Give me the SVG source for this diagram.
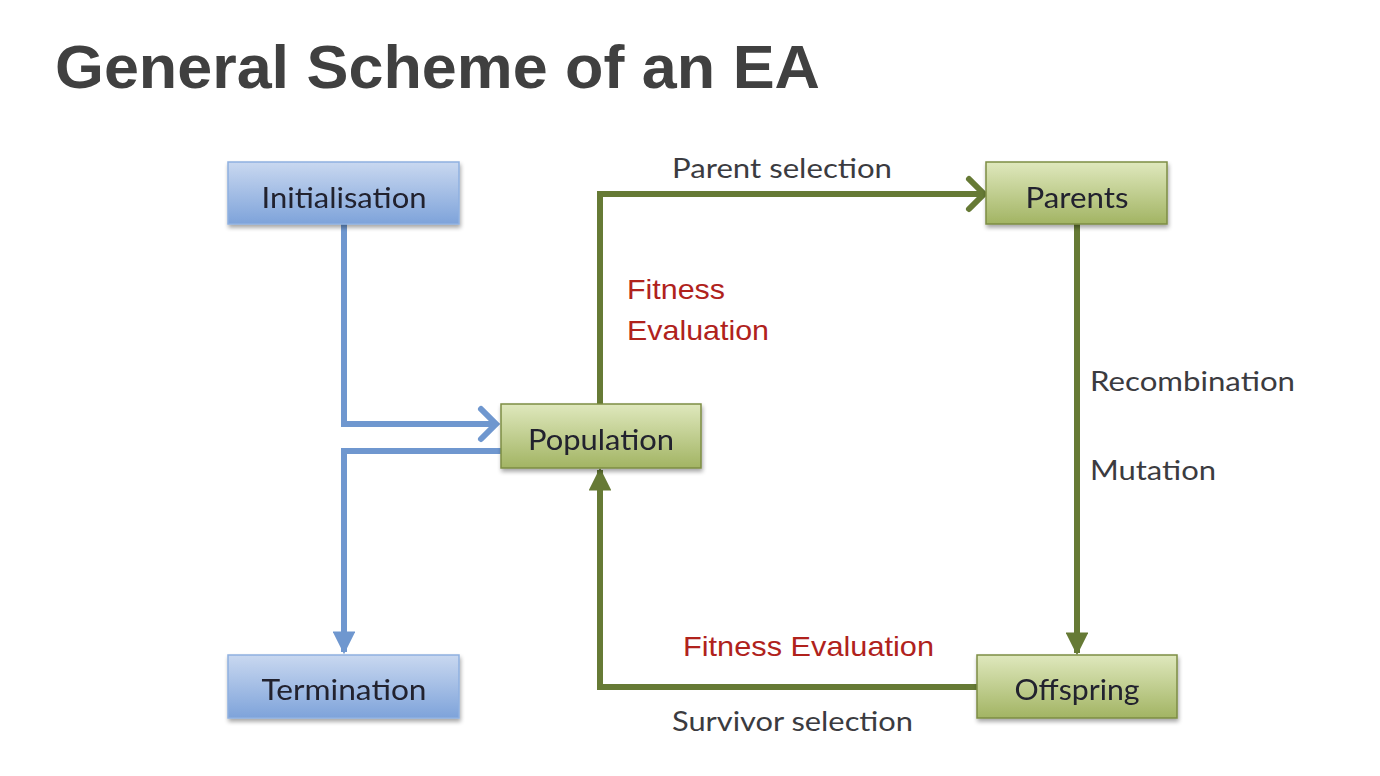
<svg xmlns="http://www.w3.org/2000/svg" width="1380" height="776" viewBox="0 0 1380 776">
<defs>
<linearGradient id="gBlue" x1="0" y1="0" x2="0" y2="1">
<stop offset="0" stop-color="#c9d8f0"/>
<stop offset="1" stop-color="#7ea3da"/>
</linearGradient>
<linearGradient id="gGreen" x1="0" y1="0" x2="0" y2="1">
<stop offset="0" stop-color="#dfe8bd"/>
<stop offset="1" stop-color="#a2b463"/>
</linearGradient>
<filter id="sh" x="-10%" y="-20%" width="130%" height="150%">
<feGaussianBlur in="SourceAlpha" stdDeviation="2"/>
<feOffset dx="1" dy="3" result="o"/>
<feComponentTransfer><feFuncA type="linear" slope="0.35"/></feComponentTransfer>
<feMerge><feMergeNode/><feMergeNode in="SourceGraphic"/></feMerge>
</filter>
<marker id="triB" viewBox="0 0 10 10" refX="9" refY="5" markerWidth="3.8" markerHeight="3.8" orient="auto" markerUnits="strokeWidth">
<path d="M0,0 L10,5 L0,10 z" fill="#6f97cf"/>
</marker>
<marker id="triG" viewBox="0 0 10 10" refX="9" refY="5" markerWidth="3.8" markerHeight="3.8" orient="auto" markerUnits="strokeWidth">
<path d="M0,0 L10,5 L0,10 z" fill="#667a35"/>
</marker>
</defs>
<style>
.title{font-family:"Liberation Sans",Arial,sans-serif;font-weight:bold;font-size:62px;fill:#404040}
.box{stroke-width:1.5}
.blue{fill:url(#gBlue);stroke:#8fb0e0}
.green{fill:url(#gGreen);stroke:#7d8d44}
.lbl{font-family:Lato,"Open Sans",sans-serif;font-size:28px;fill:#20202e;text-anchor:middle}
.edge{font-family:Lato,"Open Sans",sans-serif;font-size:27px;fill:#3b3b40}
.red{font-family:"Liberation Sans",Arial,sans-serif;font-size:28px;fill:#b0221c}
.cb{fill:none;stroke:#6f97cf;stroke-width:6}
.cg{fill:none;stroke:#667a35;stroke-width:6}
</style>
<rect width="1380" height="776" fill="#ffffff"/>
<text class="title" x="55" y="88" textLength="765" lengthAdjust="spacingAndGlyphs">General Scheme of an EA</text>

<g id="connectors">
<path class="cb" d="M344,224 V424 H496"/>
<path class="cb" d="M481,409 L496,424 L481,439" stroke-linecap="round"/>
<path class="cb" d="M503,451 H344 V652" marker-end="url(#triB)"/>
<path class="cg" d="M600,404 V194 H984"/>
<path class="cg" d="M969,179 L984,194 L969,209" stroke-linecap="round"/>
<path class="cg" d="M1077,224 V653" marker-end="url(#triG)"/>
<path class="cg" d="M977,687 H600 V470" marker-end="url(#triG)"/>
</g>

<g id="edge-labels">
<text class="edge" x="672" y="178" textLength="220" lengthAdjust="spacingAndGlyphs">Parent selection</text>
<text class="red" x="627" y="299" textLength="98" lengthAdjust="spacingAndGlyphs">Fitness</text>
<text class="red" x="627" y="340" textLength="142" lengthAdjust="spacingAndGlyphs">Evaluation</text>
<text class="edge" x="1090" y="391" textLength="205" lengthAdjust="spacingAndGlyphs">Recombination</text>
<text class="edge" x="1090" y="480" textLength="126" lengthAdjust="spacingAndGlyphs">Mutation</text>
<text class="red" x="683" y="656" textLength="251" lengthAdjust="spacingAndGlyphs">Fitness Evaluation</text>
<text class="edge" x="672" y="731" textLength="241" lengthAdjust="spacingAndGlyphs">Survivor selection</text>
</g>

<g id="initialisation" filter="url(#sh)">
<rect class="box blue" x="228" y="162" width="231" height="62"/>
<text class="lbl" x="344" y="208" textLength="165" lengthAdjust="spacingAndGlyphs">Initialisation</text>
</g>
<g id="population" filter="url(#sh)">
<rect class="box green" x="501" y="404" width="200" height="64"/>
<text class="lbl" x="601" y="450" textLength="146" lengthAdjust="spacingAndGlyphs">Population</text>
</g>
<g id="parents" filter="url(#sh)">
<rect class="box green" x="986" y="162" width="181" height="62"/>
<text class="lbl" x="1077" y="208" textLength="103" lengthAdjust="spacingAndGlyphs">Parents</text>
</g>
<g id="offspring" filter="url(#sh)">
<rect class="box green" x="977" y="655" width="200" height="63"/>
<text class="lbl" x="1077" y="700" textLength="125" lengthAdjust="spacingAndGlyphs">Offspring</text>
</g>
<g id="termination" filter="url(#sh)">
<rect class="box blue" x="228" y="655" width="231" height="63"/>
<text class="lbl" x="344" y="700" textLength="165" lengthAdjust="spacingAndGlyphs">Termination</text>
</g>
</svg>
